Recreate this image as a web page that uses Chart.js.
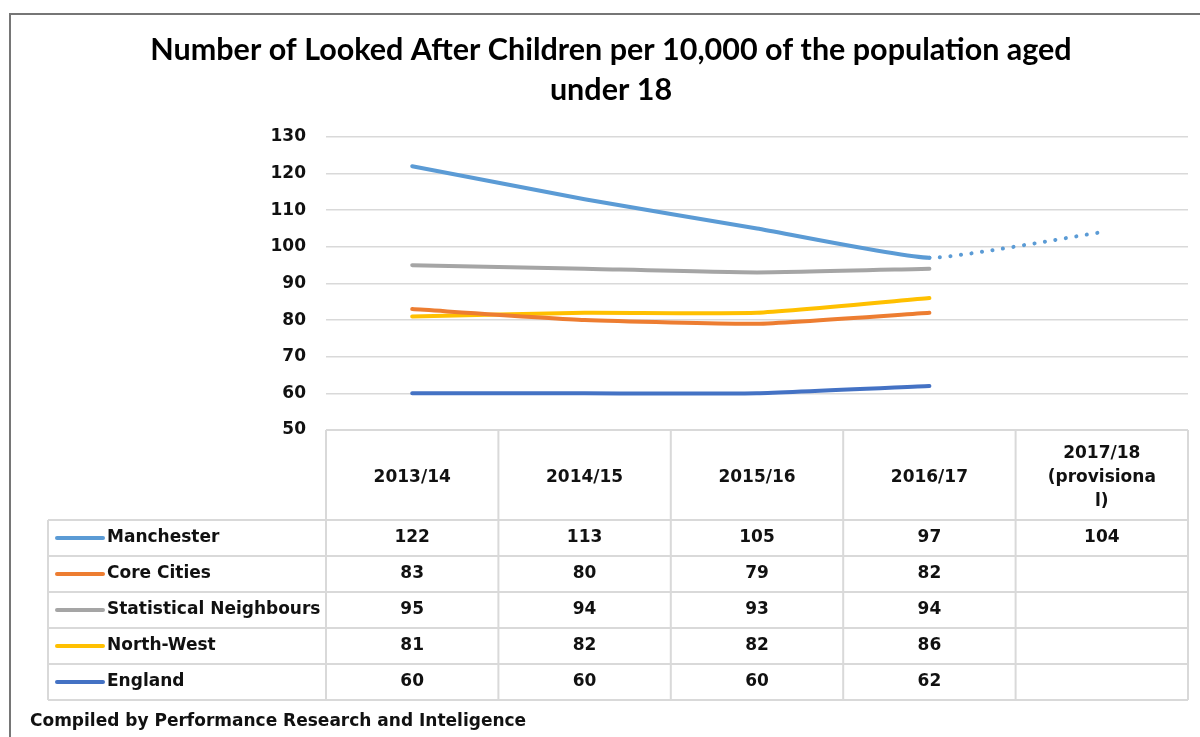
<!DOCTYPE html>
<html>
<head>
<meta charset="utf-8">
<script src="https://cdn.jsdelivr.net/npm/chart.js@4.4.1/dist/chart.umd.min.js"></script>
<style>
  html, body { margin: 0; padding: 0; background: #fff; }
  canvas { display: block; }
</style>
</head>
<body>
<canvas id="lac-chart" width="1200" height="737"></canvas>
<script>
// data
const years = ['2013/14', '2014/15', '2015/16', '2016/17', ['2017/18', '(provisiona', 'l)']];
const seriesNames = ['Manchester', 'Core Cities', 'Statistical Neighbours', 'North-West', 'England'];
const manchester = [122, 113, 105, 97, 104];
const coreCities = [83, 80, 79, 82, null];
const statNeighbours = [95, 94, 93, 94, null];
const northWest = [81, 82, 82, 86, null];
const england = [60, 60, 60, 62, null];
const yTicks = [50, 60, 70, 80, 90, 100, 110, 120, 130];

const colours = ['#5b9bd5', '#ed7d31', '#a5a5a5', '#ffc000', '#4472c4'];
const seriesValues = [manchester, coreCities, statNeighbours, northWest, england];
const tableFont = 'bold 17px "DejaVu Sans"';

// frame round the whole picture (cropped at right and bottom)
const frame = {
    id: 'frame',
    beforeDraw(chart) {
        const ctx = chart.ctx;
        ctx.save();
        ctx.fillStyle = '#fff';
        ctx.fillRect(0, 0, chart.width, chart.height);
        ctx.strokeStyle = '#767676';
        ctx.lineWidth = 2;
        ctx.beginPath();
        ctx.moveTo(10, chart.height);
        ctx.lineTo(10, 14);
        ctx.lineTo(chart.width, 14);
        ctx.stroke();
        ctx.restore();
    }
};

// excel style data table under the plot, columns follow the x scale
const dataTable = {
    id: 'dataTable',
    afterDraw(chart) {
        const { ctx, chartArea } = chart;
        const x = chart.scales.x;
        const half = (x.getPixelForValue(1) - x.getPixelForValue(0)) / 2;
        const left = chartArea.left;
        const right = chartArea.right;
        const top = chartArea.bottom;
        const headBottom = top + 90;
        const rowH = 36;
        const keyLeft = 48;
        const sets = chart.data.datasets;
        const bottom = headBottom + sets.length * rowH;

        ctx.save();
        ctx.strokeStyle = '#d9d9d9';
        ctx.lineWidth = 2;
        ctx.beginPath();
        ctx.moveTo(left, top);
        ctx.lineTo(right, top);
        for (let r = 0; r <= sets.length; r++) {
            const y = headBottom + r * rowH;
            ctx.moveTo(keyLeft, y);
            ctx.lineTo(right, y);
        }
        ctx.moveTo(keyLeft, headBottom);
        ctx.lineTo(keyLeft, bottom);
        for (let i = 0; i < chart.data.labels.length; i++) {
            const cx = x.getPixelForValue(i) - half;
            ctx.moveTo(cx, top);
            ctx.lineTo(cx, bottom);
        }
        ctx.moveTo(right, top);
        ctx.lineTo(right, bottom);
        ctx.stroke();

        ctx.font = tableFont;
        ctx.fillStyle = '#111';
        ctx.textBaseline = 'middle';
        ctx.textAlign = 'center';

        // header
        chart.data.labels.forEach((lab, i) => {
            const lines = Array.isArray(lab) ? lab : [lab];
            const cx = x.getPixelForValue(i);
            const mid = (top + headBottom) / 2 + 3;
            lines.forEach((t, k) => {
                ctx.fillText(t, cx, mid + (k - (lines.length - 1) / 2) * 24);
            });
        });

        // rows
        sets.forEach((ds, r) => {
            const cy = headBottom + r * rowH + rowH / 2;
            ctx.strokeStyle = ds.borderColor;
            ctx.lineWidth = 4;
            ctx.lineCap = 'round';
            ctx.beginPath();
            ctx.moveTo(57, cy);
            ctx.lineTo(103, cy);
            ctx.stroke();
            ctx.textAlign = 'left';
            ctx.fillText(ds.label, 107, cy);
            ctx.textAlign = 'center';
            ds.data.forEach((v, i) => {
                if (v !== null) ctx.fillText(String(v), x.getPixelForValue(i), cy);
            });
        });

        // source note
        ctx.textAlign = 'left';
        ctx.fillText('Compiled by Performance Research and Inteligence', 30, 722);
        ctx.restore();
    }
};

const ctx = document.getElementById('lac-chart').getContext('2d');
new Chart(ctx, {
    type: 'line',
    data: {
        labels: years,
        datasets: seriesNames.map((name, i) => ({
            label: name,
            data: seriesValues[i],
            borderColor: colours[i],
            backgroundColor: colours[i],
            borderWidth: 4,
            pointRadius: 0,
            tension: 0.15,
            borderCapStyle: 'round',
            segment: {
                borderDash: c => c.p1DataIndex === 4 ? [0.1, 10.5] : undefined
            }
        }))
    },
    options: {
        responsive: false,
        animation: false,
        layout: {
            padding: { left: 34, right: 12, top: 0, bottom: 307 }
        },
        scales: {
            x: {
                display: false,
                offset: true
            },
            y: {
                min: 50,
                max: 130,
                afterBuildTicks: s => { s.ticks = yTicks.map(v => ({ value: v })); },
                afterFit: s => { s.width = 292; },
                border: { display: false },
                grid: {
                    color: '#d9d9d9',
                    lineWidth: 1.5,
                    drawTicks: false
                },
                ticks: {
                    padding: 20,
                    color: '#111',
                    font: { family: 'DejaVu Sans', weight: 'bold', size: 17 }
                }
            }
        },
        plugins: {
            legend: { display: false },
            tooltip: { enabled: false },
            title: {
                display: true,
                text: ['Number of Looked After Children per 10,000 of the population aged', 'under 18'],
                color: '#000',
                font: { family: 'Lato', weight: 'bold', size: 30.5, lineHeight: 1.31 },
                padding: { top: 30, bottom: 27 }
            }
        }
    },
    plugins: [frame, dataTable]
});
</script>
</body>
</html>
